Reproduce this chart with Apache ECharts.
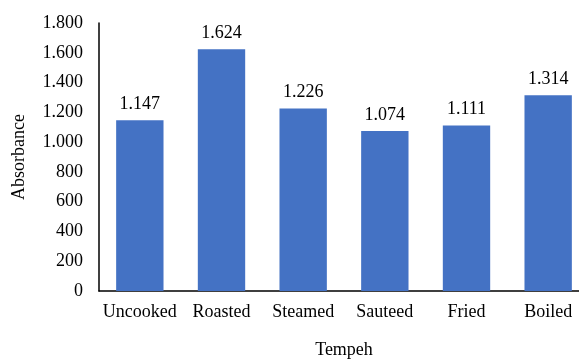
<!DOCTYPE html>
<html><head><meta charset="utf-8">
<script src="https://cdn.jsdelivr.net/npm/echarts@6/dist/echarts.min.js"></script>
<style>html,body{margin:0;padding:0;background:#fff}#c{width:579px;height:359px}</style>
</head><body><div id="c"></div>
<script>
const categories = ["Uncooked", "Roasted", "Steamed", "Sauteed", "Fried", "Boiled"];
const absorbance = [1147, 1624, 1226, 1074, 1111, 1314];
const yMin = 0, yMax = 1800, yStep = 200;

function fmt(v) {
  return String(Math.round(v)).replace(/\B(?=(\d{3})+(?!\d))/g, ".");
}
const font = "Liberation Serif";
const chart = echarts.init(document.getElementById('c'));
chart.setOption({
  animation: false,
  grid: { left: 99, top: 23, width: 490, height: 268, containLabel: false, outerBoundsMode: 'none' },
  xAxis: {
    type: 'category', data: categories,
    name: 'Tempeh', nameLocation: 'middle', nameGap: 50,
    nameTextStyle: { fontFamily: font, fontSize: 18, color: '#000' },
    axisLine: { lineStyle: { color: '#000', width: 1.5 } },
    axisTick: { show: false },
    axisLabel: { fontFamily: font, fontSize: 18, color: '#000', margin: 12, interval: 0 }
  },
  yAxis: {
    type: 'value', min: yMin, max: yMax, interval: yStep,
    name: 'Absorbance', nameLocation: 'middle', nameGap: 71, nameRotate: 90,
    nameTextStyle: { fontFamily: font, fontSize: 18, color: '#000' },
    axisLine: { show: true, lineStyle: { color: '#000', width: 1.5 } },
    axisTick: { show: false },
    splitLine: { show: false },
    axisLabel: { fontFamily: font, fontSize: 18, color: '#000', margin: 16, formatter: fmt }
  },
  series: [{
    type: 'bar', data: absorbance, barWidth: '58%',
    itemStyle: { color: '#4472C4' },
    label: { show: true, position: 'top', distance: 7, fontFamily: font, fontSize: 18, color: '#000',
      formatter: p => fmt(p.value) }
  }]
});
</script></body></html>
